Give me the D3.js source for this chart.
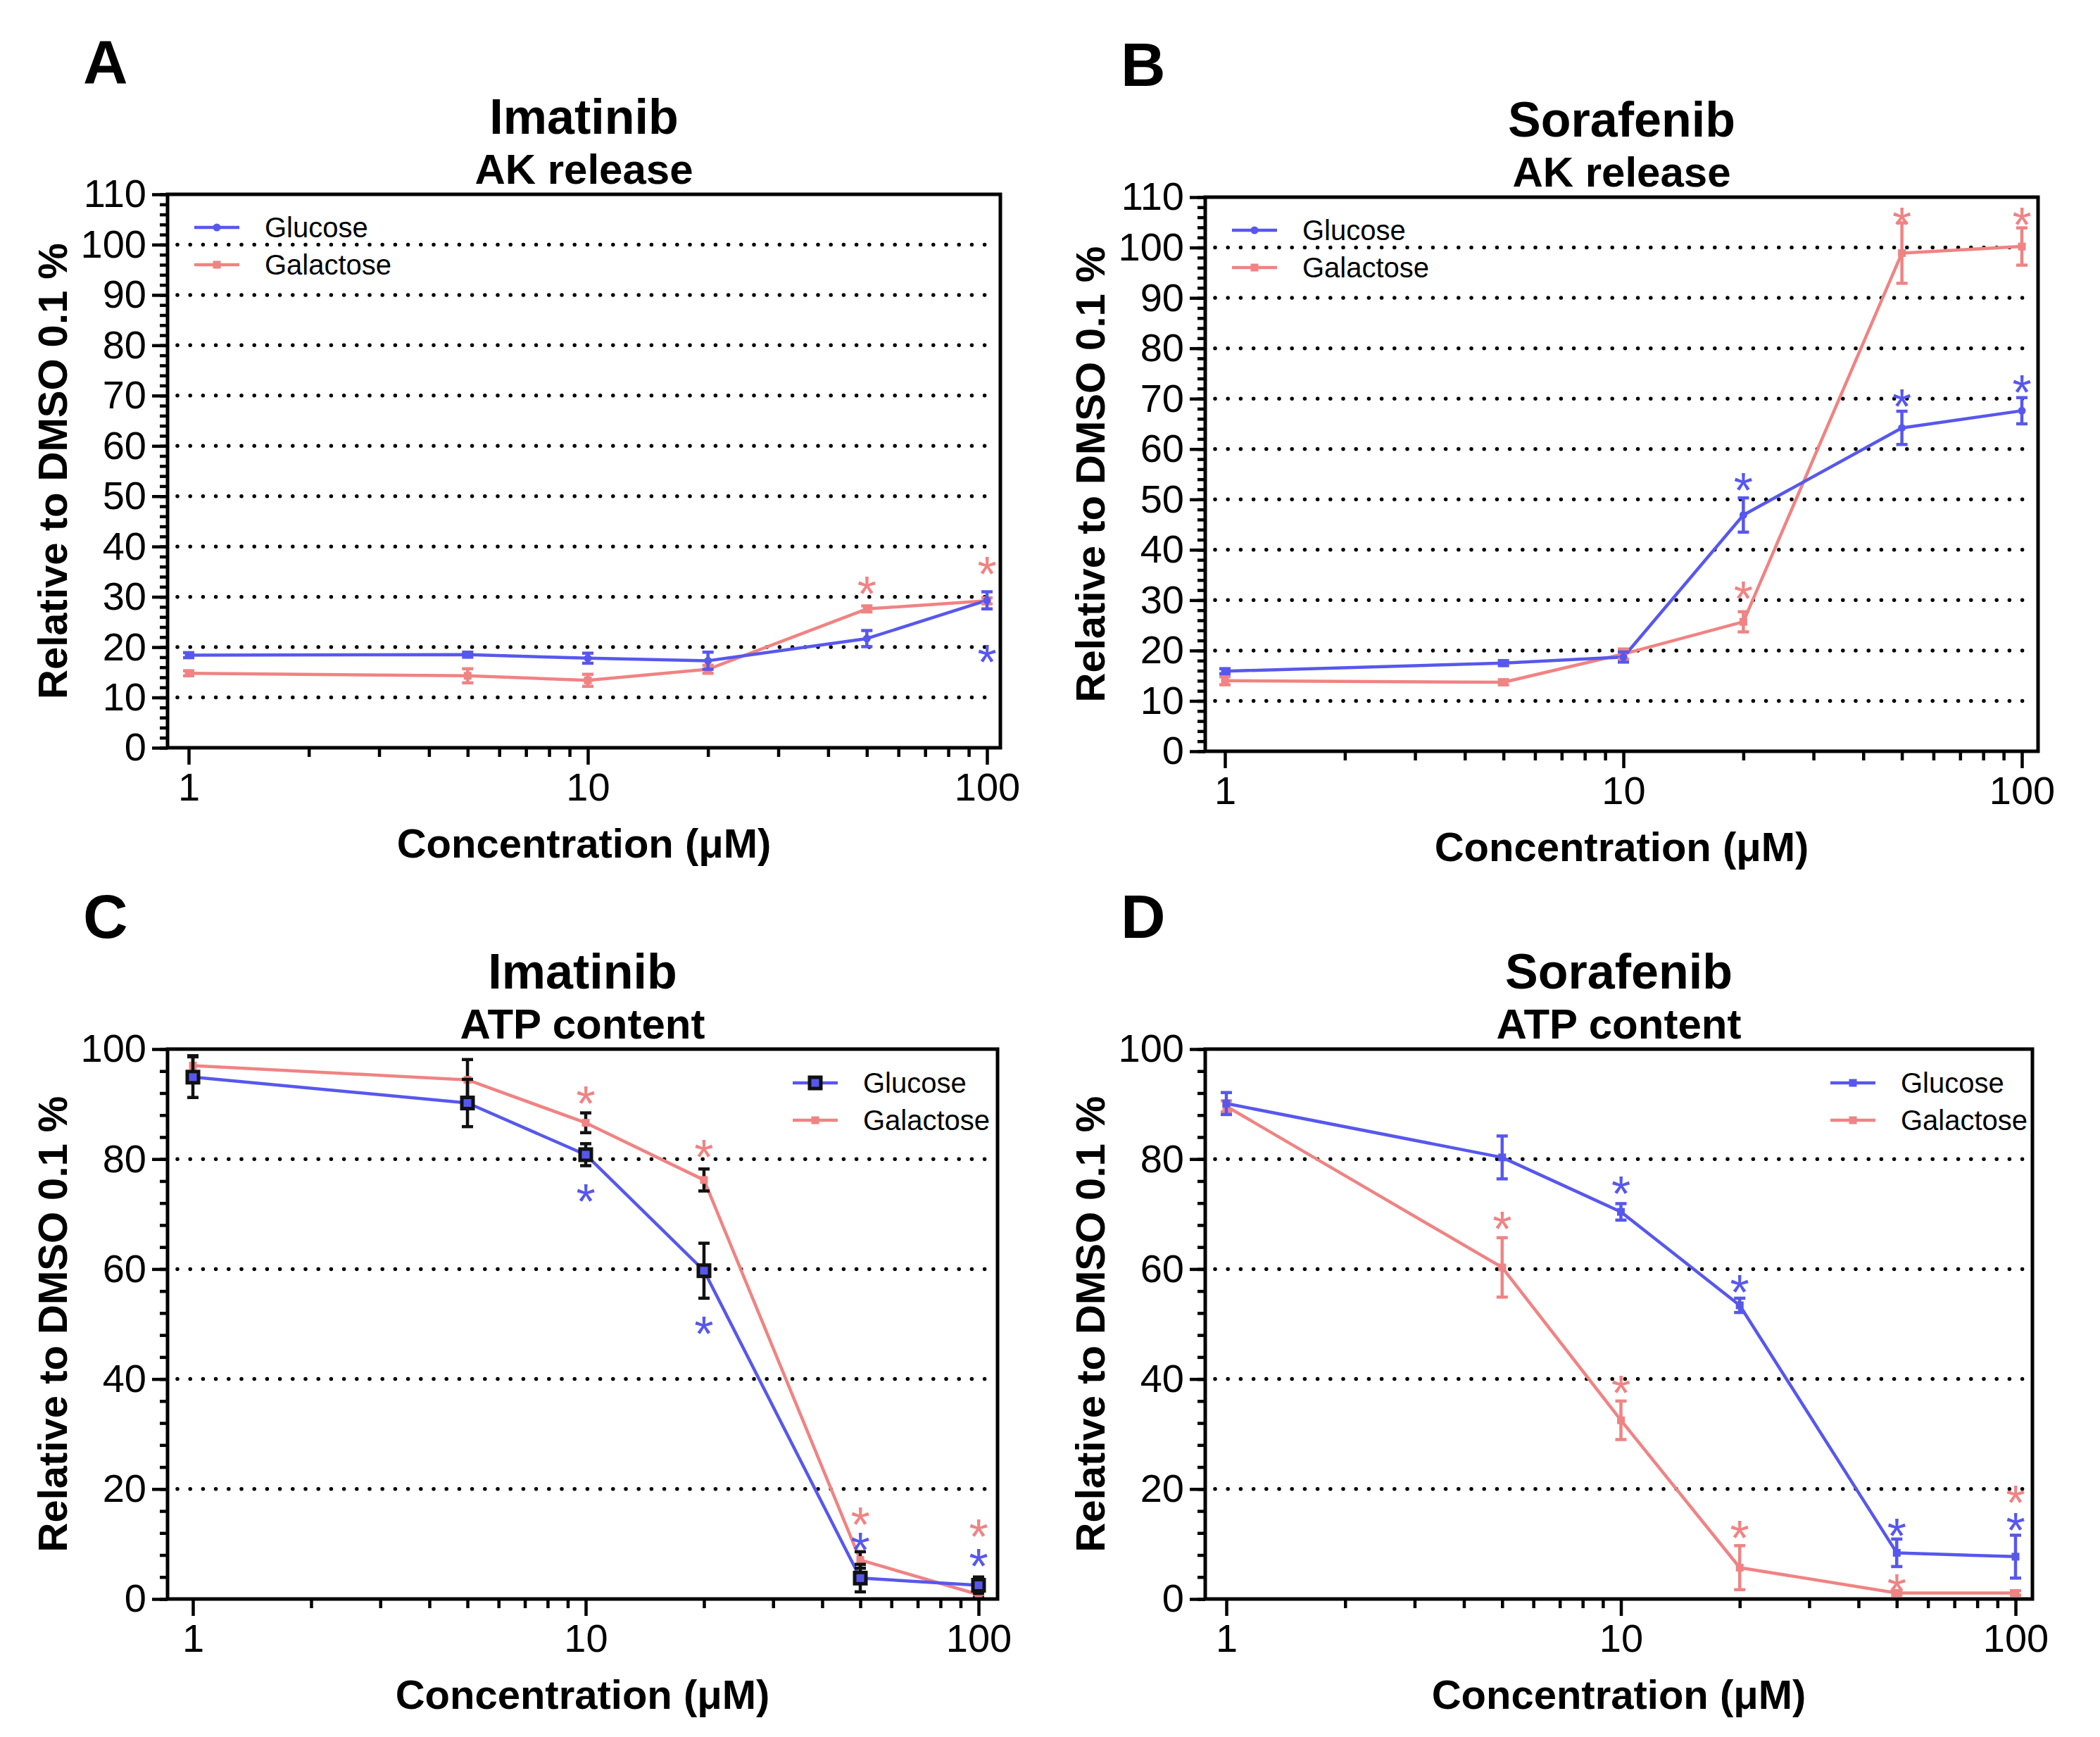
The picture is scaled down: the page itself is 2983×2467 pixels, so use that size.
<!DOCTYPE html>
<html>
<head>
<meta charset="utf-8">
<script src="https://cdn.jsdelivr.net/npm/d3@7"></script>
<style>
  body { margin: 0; background: #fff; }
  text { font-family: "Liberation Sans", Arial, sans-serif; }
</style>
</head>
<body>
<svg id="fig" width="2983" height="2467"></svg>
<script>
// concentrations (uM), same for every panel
const conc = [1, 5, 10, 20, 50, 100];
const xMajor = [1, 10, 100];
const xMinor = [2, 3, 4, 5, 6, 7, 8, 9, 20, 30, 40, 50, 60, 70, 80, 90];
const seriesNames = ['Glucose', 'Galactose'];

// A: Imatinib, AK release
const akImaGlu = [18.4, 18.5, 17.8, 17.3, 21.7, 29.3];
const akImaGluErr = [0.5, 0.5, 1.0, 1.7, 1.6, 1.7];
const akImaGal = [14.8, 14.3, 13.4, 15.6, 27.6, 29.2];
const akImaGalErr = [0.5, 1.4, 1.2, 0.8, 0.6, 0.6];
const akImaStarsGlu = [[100, 19.2]];
const akImaStarsGal = [[50, 32.7], [100, 36.6]];

// B: Sorafenib, AK release
const akSorGlu = [15.9, 17.5, 18.7, 46.9, 64.2, 67.6];
const akSorGluErr = [0.5, 0.5, 1.0, 3.4, 3.3, 2.6];
const akSorGal = [14.0, 13.7, 19.3, 25.7, 98.9, 100.2];
const akSorGalErr = [0.8, 0.5, 1.0, 2.0, 6.0, 3.7];
const akSorStarsGlu = [[20, 54.0], [50, 70.6], [100, 73.4]];
const akSorStarsGal = [[20, 32.4], [50, 106.7], [100, 106.7]];

// C: Imatinib, ATP content
const atpImaGlu = [94.9, 90.2, 80.8, 59.7, 3.8, 2.5];
const atpImaGluErr = [3.7, 4.3, 2.0, 5.0, 2.5, 1.5];
const atpImaGal = [97.0, 94.4, 86.6, 76.2, 7.1, 0.8];
const atpImaGalErr = [1.8, 3.7, 1.8, 2.0, 1.5, 0.5];
const atpImaStarsGlu = [[10, 74.2], [20, 50.2], [50, 10.9], [100, 7.9]];
const atpImaStarsGal = [[10, 92.1], [20, 82.3], [50, 15.5], [100, 13.3]];

// D: Sorafenib, ATP content
const atpSorGlu = [90.1, 80.3, 70.4, 53.4, 8.4, 7.7];
const atpSorGluErr = [2.0, 3.9, 1.5, 1.3, 2.5, 3.9];
const atpSorGal = [89.6, 60.3, 32.5, 5.7, 1.1, 1.1];
const atpSorGalErr = [1.0, 5.4, 3.5, 4.0, 0.4, 0.4];
const atpSorStarsGlu = [[10, 75.7], [20, 57.7], [50, 13.5], [100, 14.5]];
const atpSorStarsGal = [[5, 69.3], [10, 39.5], [20, 13.0], [50, 3.3], [100, 19.5]];

const BLUE = '#5757ee';
const RED = '#f08383';

const panels = [
  {letter: 'A', drug: 'Imatinib', assay: 'AK release',
   left: 238, right: 1421, top: 276, bottom: 1062, x1: 268, x100: 1402,
   yMax: 110, yStep: 10, yMinor: 2, grid: [10, 20, 30, 40, 50, 60, 70, 80, 90, 100],
   glu: akImaGlu, gluErr: akImaGluErr, gal: akImaGal, galErr: akImaGalErr,
   starsGlu: akImaStarsGlu, starsGal: akImaStarsGal,
   legX: 276, legY: 323, style: 'ak'},
  {letter: 'B', drug: 'Sorafenib', assay: 'AK release',
   left: 1712, right: 2895, top: 280, bottom: 1067, x1: 1740, x100: 2872,
   yMax: 110, yStep: 10, yMinor: 2, grid: [10, 20, 30, 40, 50, 60, 70, 80, 90, 100],
   glu: akSorGlu, gluErr: akSorGluErr, gal: akSorGal, galErr: akSorGalErr,
   starsGlu: akSorStarsGlu, starsGal: akSorStarsGal,
   legX: 1750, legY: 327, style: 'ak'},
  {letter: 'C', drug: 'Imatinib', assay: 'ATP content',
   left: 238, right: 1417, top: 1490, bottom: 2271, x1: 274, x100: 1390,
   yMax: 100, yStep: 20, yMinor: 4, grid: [20, 40, 60, 80],
   glu: atpImaGlu, gluErr: atpImaGluErr, gal: atpImaGal, galErr: atpImaGalErr,
   starsGlu: atpImaStarsGlu, starsGal: atpImaStarsGal,
   legX: 1126, legY: 1538, style: 'atpIma'},
  {letter: 'D', drug: 'Sorafenib', assay: 'ATP content',
   left: 1712, right: 2887, top: 1490, bottom: 2271, x1: 1742, x100: 2863,
   yMax: 100, yStep: 20, yMinor: 4, grid: [20, 40, 60, 80],
   glu: atpSorGlu, gluErr: atpSorGluErr, gal: atpSorGal, galErr: atpSorGalErr,
   starsGlu: atpSorStarsGlu, starsGal: atpSorStarsGal,
   legX: 2600, legY: 1538, style: 'atpSor'}
];

const svg = d3.select('#fig');

function drawMarker(g, kind, cx, cy, color) {
  if (kind === 'circle') {
    g.append('circle').attr('cx', cx).attr('cy', cy).attr('r', 5.5).attr('fill', color);
  } else if (kind === 'open') {
    g.append('rect').attr('x', cx - 8).attr('y', cy - 8).attr('width', 16).attr('height', 16)
      .attr('fill', BLUE).attr('stroke', '#111').attr('stroke-width', 5);
  } else {
    g.append('rect').attr('x', cx - 5.5).attr('y', cy - 5.5).attr('width', 11).attr('height', 11)
      .attr('fill', color);
  }
}

panels.forEach(p => {
  const g = svg.append('g');

  const x = d3.scaleLog().domain([1, 100]).range([p.x1, p.x100]);
  const y = d3.scaleLinear().domain([0, p.yMax]).range([p.bottom, p.top]);

  // panel letter + titles
  g.append('text').attr('x', p.left - 120).attr('y', p.top - 158)
    .attr('font-size', 88).attr('font-weight', 'bold').text(p.letter);
  const cx = (p.left + p.right) / 2;
  g.append('text').attr('x', cx).attr('y', p.top - 86).attr('text-anchor', 'middle')
    .attr('font-size', 70).attr('font-weight', 'bold').text(p.drug);
  g.append('text').attr('x', cx).attr('y', p.top - 15).attr('text-anchor', 'middle')
    .attr('font-size', 60).attr('font-weight', 'bold').text(p.assay);

  // dotted grid
  g.selectAll('.grid').data(p.grid).enter().append('line')
    .attr('x1', p.left + 14).attr('x2', p.right - 6)
    .attr('y1', d => y(d)).attr('y2', d => y(d))
    .attr('stroke', '#000').attr('stroke-width', 5.5)
    .attr('stroke-linecap', 'round').attr('stroke-dasharray', '0 18.2');

  // y axis
  const yMinorAxis = d3.axisLeft(y).tickValues(d3.range(0, p.yMax + 0.01, p.yMinor))
    .tickSize(11).tickFormat('');
  const yAxis = d3.axisLeft(y).tickValues(d3.range(0, p.yMax + 0.01, p.yStep))
    .tickSize(22).tickPadding(8);
  [yMinorAxis, yAxis].forEach(ax => {
    const a = g.append('g').attr('transform', `translate(${p.left},0)`).call(ax);
    a.select('.domain').remove();
    a.selectAll('line').attr('stroke-width', 4.5);
    a.selectAll('text').attr('font-size', 56).attr('fill', '#000');
  });

  // x axis (log)
  const xMinorAxis = d3.axisBottom(x).tickValues(xMinor).tickSize(13).tickFormat('');
  const xAxis = d3.axisBottom(x).tickValues(xMajor).tickSize(24).tickPadding(11)
    .tickFormat(d3.format('d'));
  [xMinorAxis, xAxis].forEach(ax => {
    const a = g.append('g').attr('transform', `translate(0,${p.bottom})`).call(ax);
    a.select('.domain').remove();
    a.selectAll('line').attr('stroke-width', 4.5);
    a.selectAll('text').attr('font-size', 56).attr('fill', '#000');
  });

  // axis titles
  g.append('text').attr('x', cx).attr('y', p.bottom + 156).attr('text-anchor', 'middle')
    .attr('font-size', 58).attr('font-weight', 'bold').text('Concentration (\u03bcM)');
  g.append('text')
    .attr('transform', `translate(${p.left - 143},${(p.top + p.bottom) / 2}) rotate(-90)`)
    .attr('text-anchor', 'middle').attr('font-size', 58).attr('font-weight', 'bold')
    .text('Relative to DMSO 0.1 %');

  // series
  const series = [
    {name: 'Galactose', vals: p.gal, err: p.galErr, color: RED,
     marker: 'square', errColor: p.style === 'atpIma' ? '#111' : RED},
    {name: 'Glucose', vals: p.glu, err: p.gluErr, color: BLUE,
     marker: p.style === 'ak' ? 'circle' : (p.style === 'atpIma' ? 'open' : 'square'),
     errColor: p.style === 'atpIma' ? '#111' : BLUE}
  ];
  const line = d3.line().x(d => x(d[0])).y(d => y(d[1]));
  series.forEach(s => {
    g.append('path').datum(conc.map((c, i) => [c, s.vals[i]]))
      .attr('d', line).attr('fill', 'none').attr('stroke', s.color)
      .attr('stroke-width', 4.5).attr('stroke-linejoin', 'round');
  });
  series.forEach(s => {
    const eg = g.append('g').attr('stroke', s.errColor).attr('stroke-width', 4.5);
    conc.forEach((c, i) => {
      const xx = x(c), lo = y(s.vals[i] - s.err[i]), hi = y(s.vals[i] + s.err[i]);
      eg.append('line').attr('x1', xx).attr('x2', xx).attr('y1', lo).attr('y2', hi);
      eg.append('line').attr('x1', xx - 8).attr('x2', xx + 8).attr('y1', lo).attr('y2', lo);
      eg.append('line').attr('x1', xx - 8).attr('x2', xx + 8).attr('y1', hi).attr('y2', hi);
    });
    conc.forEach((c, i) => drawMarker(g, s.marker, x(c), y(s.vals[i]), s.color));
  });

  // significance stars
  [[p.starsGlu, BLUE], [p.starsGal, RED]].forEach(([stars, col]) => {
    g.selectAll(null).data(stars).enter().append('text')
      .attr('x', d => x(d[0])).attr('y', d => y(d[1]) + 40)
      .attr('text-anchor', 'middle').attr('font-size', 70).attr('fill', col)
      .text('*');
  });

  // frame
  g.append('rect').attr('x', p.left).attr('y', p.top)
    .attr('width', p.right - p.left).attr('height', p.bottom - p.top)
    .attr('fill', 'none').attr('stroke', '#000').attr('stroke-width', 5);

  // legend
  const legend = [
    {name: seriesNames[0], color: BLUE, marker: series[1].marker},
    {name: seriesNames[1], color: RED, marker: 'square'}
  ];
  legend.forEach((l, i) => {
    const ly = p.legY + i * 53;
    g.append('line').attr('x1', p.legX).attr('x2', p.legX + 64).attr('y1', ly).attr('y2', ly)
      .attr('stroke', l.color).attr('stroke-width', 4.5);
    drawMarker(g, l.marker, p.legX + 32, ly, l.color);
    g.append('text').attr('x', p.legX + 100).attr('y', ly + 14)
      .attr('font-size', 40).text(l.name);
  });
});
</script>
</body>
</html>
